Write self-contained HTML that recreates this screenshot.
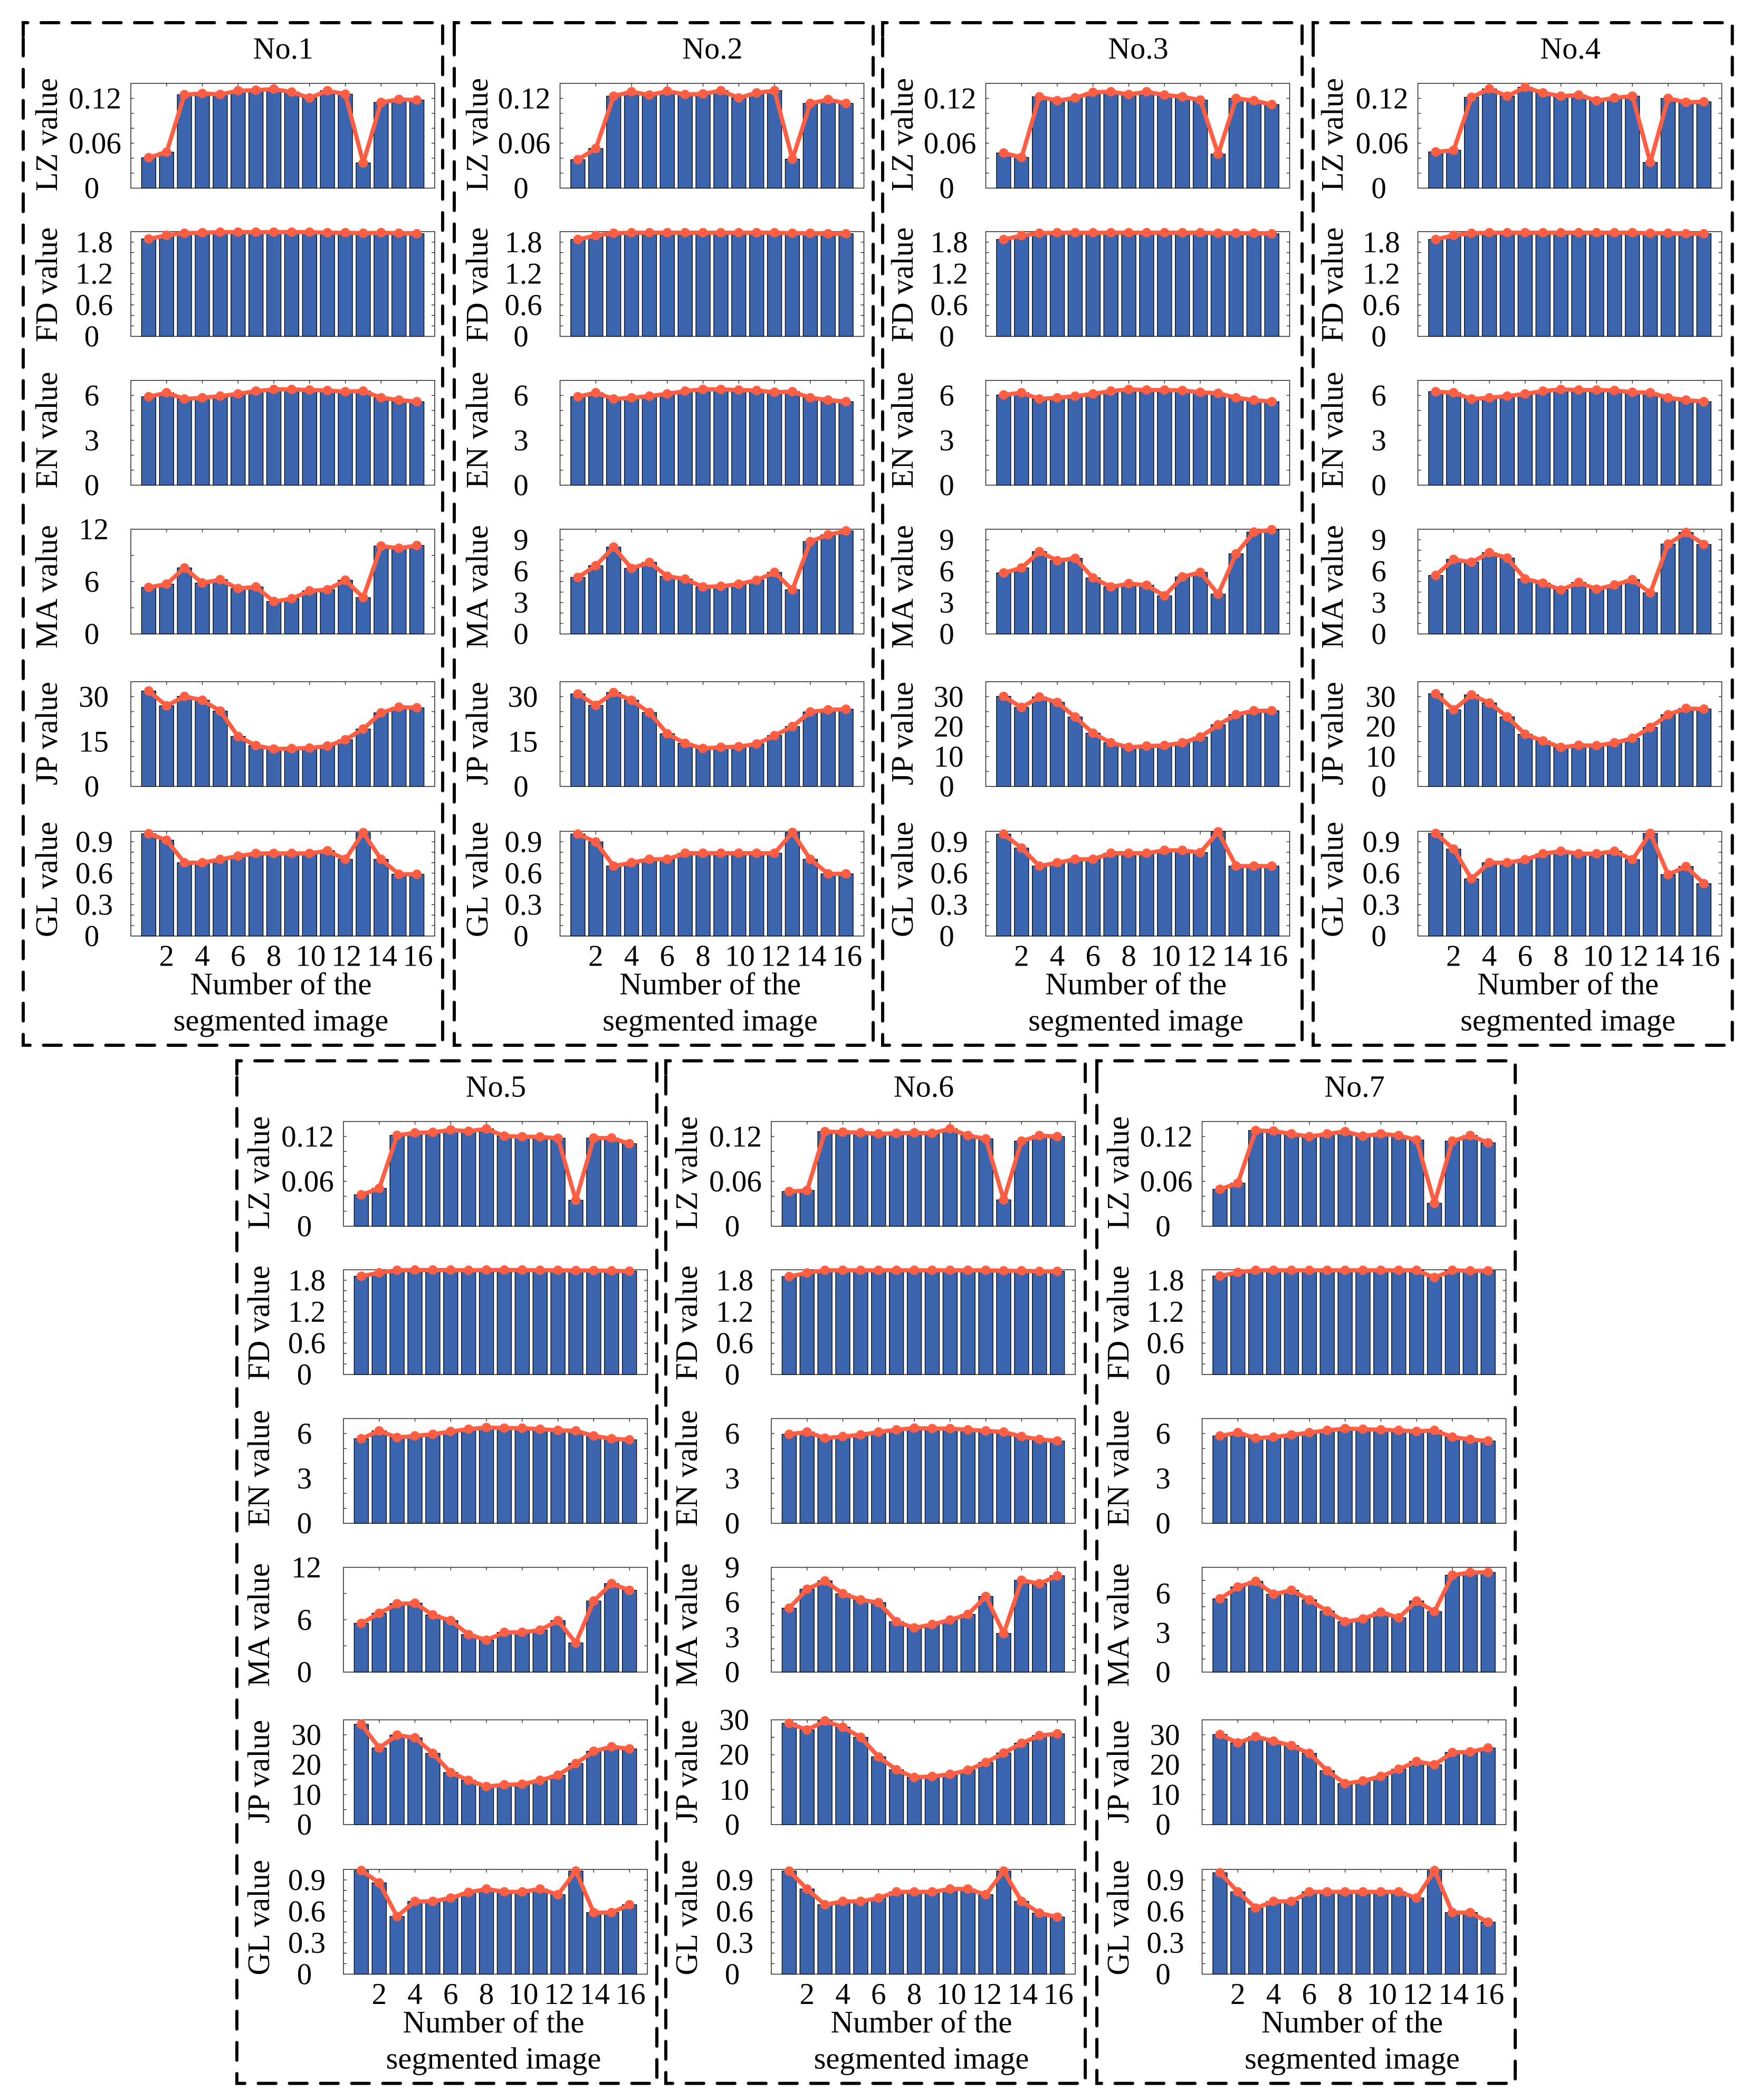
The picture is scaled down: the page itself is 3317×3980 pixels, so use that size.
<!DOCTYPE html>
<html lang="en">
<head>
<meta charset="utf-8">
<title>Segmented image parameter charts</title>
<style>
html,body{margin:0;padding:0;background:#fff;}
svg{display:block;}
text{font-family:"Liberation Serif",serif;fill:#000;}
</style>
</head>
<body>
<svg id="figure" xmlns="http://www.w3.org/2000/svg" width="3317" height="3980" viewBox="0 0 3317 3980"></svg>
<script>
// ---- categories and labels ----
const imageNumbers = [1,2,3,4,5,6,7,8,9,10,11,12,13,14,15,16];
const xTickLabels = ['2','4','6','8','10','12','14','16'];
const panelTitles = ['No.1','No.2','No.3','No.4','No.5','No.6','No.7'];
const metricNames = ['LZ','FD','EN','MA','JP','GL'];
const xTitleLines = ['Number of the','segmented image'];

// ---- series values ----
const no1LZ = [.0406,.0481,.1249,.1265,.1252,.1302,.1309,.1324,.1284,.1205,.1302,.1255,.0337,.1145,.1186,.1177];
const no1FD = [1.86,1.93,1.97,1.98,1.99,1.99,1.99,1.99,1.99,1.99,1.98,1.98,1.97,1.98,1.97,1.96];
const no1EN = [5.91,6.18,5.76,5.84,5.95,6.10,6.29,6.40,6.40,6.36,6.33,6.25,6.29,5.84,5.69,5.58];
const no1MA = [5.33,5.71,7.57,5.84,6.22,5.2,5.39,3.72,4.04,4.94,5.07,6.16,4.17,10.07,9.82,10.14];
const no1JP = [31.9,26.95,30.1,28.8,25.2,16.7,13.66,12.5,12.66,12.84,13.5,15.6,19.2,24.6,26.5,26.3];
const no1GL = [.977,.915,.70,.70,.732,.763,.789,.789,.789,.789,.814,.732,.987,.732,.59,.59];

const no2LZ = [.038,.0529,.1229,.1288,.1244,.1296,.1251,.1259,.1303,.1206,.1273,.1303,.0387,.1132,.1184,.1132];
const no2FD = [1.85,1.925,1.97,1.98,1.98,1.98,1.98,1.98,1.98,1.98,1.98,1.98,1.97,1.97,1.96,1.96];
const no2EN = [5.91,6.18,5.76,5.84,5.95,6.10,6.29,6.40,6.40,6.36,6.33,6.21,6.25,5.84,5.69,5.58];
const no2MA = [5.4,6.52,8.29,6.26,6.84,5.51,5.24,4.49,4.55,4.76,5.13,5.88,4.22,8.82,9.47,9.84];
const no2JP = [30.9,27.1,31.4,28.8,24.7,17.6,14.4,12.7,13.1,13.3,14.2,17.0,20.0,24.9,25.6,25.8];
const no2GL = [.973,.898,.668,.70,.733,.733,.791,.791,.791,.791,.791,.791,.989,.733,.594,.594];

const no3LZ = [.0469,.041,.1221,.1169,.1206,.1281,.1288,.1251,.1288,.1244,.1221,.1177,.0454,.1199,.1169,.1117];
const no3FD = [1.85,1.925,1.97,1.98,1.98,1.98,1.98,1.98,1.98,1.98,1.98,1.98,1.97,1.97,1.97,1.96];
const no3EN = [6.03,6.18,5.76,5.84,5.95,6.10,6.29,6.40,6.36,6.36,6.33,6.21,6.14,5.84,5.69,5.58];
const no3MA = [5.83,6.31,7.86,7.0,7.22,5.35,4.49,4.81,4.65,3.64,5.45,5.88,3.8,7.65,9.73,9.95];
const no3JP = [30.1,26.4,29.9,28.1,23.2,17.8,14.6,13.1,13.5,13.7,14.6,16.5,20.6,24.0,25.3,25.3];
const no3GL = [.973,.84,.668,.70,.733,.733,.791,.791,.791,.818,.818,.797,.995,.668,.668,.668];

const no4LZ = [.0484,.0506,.1214,.1326,.1229,.1348,.1273,.1229,.1244,.1169,.1206,.1229,.0343,.1199,.1147,.1154];
const no4FD = [1.85,1.93,1.97,1.98,1.98,1.98,1.98,1.98,1.98,1.98,1.98,1.98,1.97,1.97,1.96,1.96];
const no4EN = [6.25,6.18,5.76,5.84,5.95,6.10,6.29,6.40,6.36,6.36,6.33,6.21,6.18,5.84,5.69,5.58];
const no4MA = [5.59,7.12,6.85,7.76,7.25,5.25,4.85,4.2,4.92,4.27,4.68,5.19,3.93,8.58,9.69,8.54];
const no4JP = [30.97,25.6,30.6,27.9,23.25,17.44,15.2,13.05,13.76,13.64,14.6,16.1,19.7,23.97,26.1,25.86];
const no4GL = [.98,.83,.546,.70,.70,.729,.786,.81,.786,.786,.81,.729,.98,.586,.664,.50];

const no5LZ = [.042,.0506,.1215,.1248,.1255,.1288,.127,.1302,.1205,.1197,.1194,.1176,.0347,.1179,.1179,.1103];
const no5FD = [1.877,1.943,1.99,1.995,1.995,1.995,1.99,1.995,1.995,1.995,1.99,1.99,1.985,1.985,1.98,1.974];
const no5EN = [5.65,6.18,5.73,5.84,5.95,6.14,6.29,6.40,6.36,6.36,6.29,6.21,6.18,5.84,5.65,5.58];
const no5MA = [5.58,6.74,7.83,7.89,6.55,5.9,4.3,3.66,4.56,4.56,4.81,5.9,3.34,8.15,10.14,9.37];
const no5JP = [33.5,25.6,29.9,29.0,23.8,17.4,14.8,12.7,13.3,13.5,14.8,16.5,20.4,24.5,26.0,25.3];
const no5GL = [.989,.872,.551,.695,.695,.727,.781,.813,.786,.786,.813,.759,.984,.588,.588,.663];

const no6LZ = [.0464,.0479,.1265,.1258,.125,.1235,.1243,.125,.1243,.1303,.1213,.1168,.0352,.1138,.1213,.1198];
const no6FD = [1.87,1.94,1.99,1.99,1.99,1.99,1.99,1.99,1.99,1.99,1.99,1.99,1.98,1.98,1.97,1.97];
const no6EN = [5.95,6.10,5.69,5.8,5.91,6.10,6.25,6.36,6.33,6.33,6.25,6.18,6.10,5.8,5.61,5.5];
const no6MA = [5.49,7.12,7.84,6.74,6.21,5.97,4.33,3.8,4.09,4.48,4.96,6.5,3.32,7.89,7.6,8.28];
const no6JP = [29.0,27.1,29.7,27.9,25.0,19.4,15.7,13.5,13.8,14.4,15.6,17.8,20.5,23.3,25.5,26.0];
const no6GL = [.984,.813,.663,.695,.695,.727,.786,.786,.786,.813,.813,.759,.984,.695,.583,.545];

const no7LZ = [.0494,.0576,.128,.1273,.1235,.1198,.1235,.1265,.1205,.1235,.1213,.1153,.0307,.1138,.1213,.1115];
const no7FD = [1.88,1.95,1.99,1.99,1.99,1.99,1.99,1.99,1.99,1.99,1.99,1.99,1.85,1.99,1.98,1.98];
const no7EN = [5.84,6.06,5.69,5.76,5.91,6.06,6.21,6.33,6.29,6.25,6.21,6.14,6.21,5.76,5.61,5.5];
const no7MA = [5.6,6.5,6.93,5.95,6.25,5.52,4.66,3.85,4.06,4.58,4.15,5.43,4.62,7.4,7.61,7.61];
const no7JP = [30.1,27.3,29.4,27.9,26.4,23.8,18.0,13.7,14.6,16.1,18.5,21.1,20.0,24.1,24.3,25.6];
const no7GL = [.968,.786,.631,.695,.695,.786,.786,.786,.786,.786,.786,.727,.989,.588,.588,.497];

// ---- axis scales and tick labels ----
const lzMax = .14, fdMax = 2, enMax = 7, glMax = 1;
const maMaxByPanel = [12,10,10,10,12,9,8];
const jpMaxByPanel = [35,35,35,35,35,30,35];
const maStepByPanel = [3,1,1,1,3,1,1];
const lzTicks = ['0','0.06','0.12'];
const fdTicks = ['0','0.6','1.2','1.8'];
const enTicks = ['0','3','6'];
const glTicks = ['0','0.3','0.6','0.9'];
const maTicksByPanel = [['0','6','12'],['0','3','6','9'],['0','3','6','9'],['0','3','6','9'],['0','6','12'],['0','3','6','9'],['0','3','6']];
const jpTicksByPanel = [['0','15','30'],['0','15','30'],['0','10','20','30'],['0','10','20','30'],['0','10','20','30'],['0','10','20','30'],['0','10','20','30']];

const panelSeries = [
  [no1LZ,no1FD,no1EN,no1MA,no1JP,no1GL],
  [no2LZ,no2FD,no2EN,no2MA,no2JP,no2GL],
  [no3LZ,no3FD,no3EN,no3MA,no3JP,no3GL],
  [no4LZ,no4FD,no4EN,no4MA,no4JP,no4GL],
  [no5LZ,no5FD,no5EN,no5MA,no5JP,no5GL],
  [no6LZ,no6FD,no6EN,no6MA,no6JP,no6GL],
  [no7LZ,no7FD,no7EN,no7MA,no7JP,no7GL]
];

// ---- layout (not data) ----
const axisLeft = [248,1061.5,1868.5,2687.5,651,1462,2278.5];
const boxLeft = [44,861,1673,2489,449,1262,2079];
const boxRight = [839,1655,2468,3283.5,1245,2057,2872];
const yTitleGap = [140,137.5,138.5,142.5,141,141,139.5];
const rowShift = [0,0,0,0,1967.5,1967.5,1967.5];
const axisTop = [158,439,721,1003,1292,1575.5];
const yTitleNudge = [-2,1.5,-5,10,-1,-8];
const AXIS_W = 576, AXIS_H = 198.5, BAR_W = 27, X_MAX = 17;
const BAR_FILL = '#3b66af', LINE_COLOR = '#ff5e43';
const NS = 'http://www.w3.org/2000/svg';
const svg = document.getElementById('figure');

function make(tag, attrs, parent, txt){
  const el = document.createElementNS(NS, tag);
  for (const k in attrs) el.setAttribute(k, attrs[k]);
  if (txt !== undefined) el.textContent = txt;
  parent.appendChild(el);
  return el;
}
function yMaxOf(p, m){
  return [lzMax, fdMax, enMax, maMaxByPanel[p], jpMaxByPanel[p], glMax][m];
}
function stepOf(p, m){
  return [.02, .2, 1, maStepByPanel[p], 5, .1][m];
}
function ticksOf(p, m){
  return [lzTicks, fdTicks, enTicks, maTicksByPanel[p], jpTicksByPanel[p], glTicks][m];
}
function labelGap(s){
  return {1:74, 2:70.5, 3:69.5, 4:68}[s.length];
}

function drawAxes(p, m, group){
  const x0 = axisLeft[p];
  const top = axisTop[m] + rowShift[p];
  const bottom = top + AXIS_H;
  const vals = panelSeries[p][m];
  const yMax = yMaxOf(p, m);
  const xScale = v => x0 + v / X_MAX * AXIS_W;
  const yScale = v => bottom - v / yMax * AXIS_H;

  const frame = make('rect', {x:x0, y:top, width:AXIS_W, height:AXIS_H, fill:'#fff', stroke:'#222', 'stroke-width':1.5}, group);
  
  

  // minor y ticks on both sides
  const step = stepOf(p, m);
  const count = Math.round(yMax / step);
  for (let i = 1; i < count; i++) {
    const ty = yScale(i * step);
    const t = make('path', {d:`M${x0} ${ty}h6M${x0 + AXIS_W} ${ty}h-6`, stroke:'#222', 'stroke-width':1.3, fill:'none'}, group);
    
    
  }
  // x ticks top and bottom
  xTickLabels.forEach(lab => {
    const tx = xScale(Number(lab));
    const t = make('path', {d:`M${tx} ${top}v6M${tx} ${bottom}v-6`, stroke:'#222', 'stroke-width':1.3, fill:'none'}, group);
    
    
  });
  // bars
  vals.forEach((v, i) => {
    const cx = xScale(imageNumbers[i]);
    const b = make('rect', {x:cx - BAR_W / 2, y:yScale(v), width:BAR_W, height:bottom - yScale(v), fill:BAR_FILL, stroke:'#000', 'stroke-width':1.3}, group);
    
    
  });
  // line and markers
  const pts = vals.map((v, i) => xScale(imageNumbers[i]) + ',' + yScale(v)).join(' ');
  const line = make('polyline', {points:pts, fill:'none', stroke:LINE_COLOR, 'stroke-width':8, 'stroke-linejoin':'round'}, group);
  
  
  vals.forEach((v, i) => {
    const c = make('circle', {cx:xScale(imageNumbers[i]), cy:yScale(v), r:9, fill:LINE_COLOR}, group);
    
    
  });
  // y tick labels
  ticksOf(p, m).forEach(lab => {
    const t = make('text', {x:x0 - labelGap(lab), y:yScale(Number(lab)) + 19, 'font-size':57, 'text-anchor':'middle'}, group, lab);
    
    
  });
  // y title
  const tx = x0 - yTitleGap[p];
  const ty = (top + bottom) / 2 + yTitleNudge[m];
  const title = make('text', {x:tx, y:ty, 'font-size':59, 'text-anchor':'middle', transform:`rotate(-90 ${tx} ${ty})`}, group, metricNames[m] + ' value');
  
  

  // x labels on the last axes
  if (m === metricNames.length - 1) {
    xTickLabels.forEach(lab => {
      const t = make('text', {x:xScale(Number(lab)) + (lab.length > 1 ? 2 : 0), y:bottom + 56.5, 'font-size':57, 'text-anchor':'middle'}, group, lab);
      
      
    });
    const cx = x0 + AXIS_W / 2 - 3.5;
    const l1 = make('text', {x:cx, y:bottom + 110.5, 'font-size':59, 'text-anchor':'middle'}, group, xTitleLines[0]);
    
    
    const l2 = make('text', {x:cx, y:bottom + 179, 'font-size':58.5, 'text-anchor':'middle'}, group, xTitleLines[1]);
    
    
  }
}

panelTitles.forEach((name, p) => {
  const g = make('g', {}, svg);
  
  

  const L = boxLeft[p], R = boxRight[p], T = 43 + rowShift[p], B = 1981 + rowShift[p];
  const box = make('path', {d:`M${L} ${T + 27}V${T}H${R}V${B}H${L}Z`, fill:'none', stroke:'#000', 'stroke-width':6, 'stroke-dasharray':'33.5 25.5', 'stroke-dashoffset':'-2', 'stroke-linecap':'round'}, g);
  
  

  const title = make('text', {x:axisLeft[p] + AXIS_W / 2 + 1, y:T + 68, 'font-size':58, 'text-anchor':'middle'}, g, name);
  
  

  metricNames.forEach((metric, m) => {
    const ag = make('g', {}, g);
    
    
    drawAxes(p, m, ag);
  });
});
</script>
</body>
</html>
